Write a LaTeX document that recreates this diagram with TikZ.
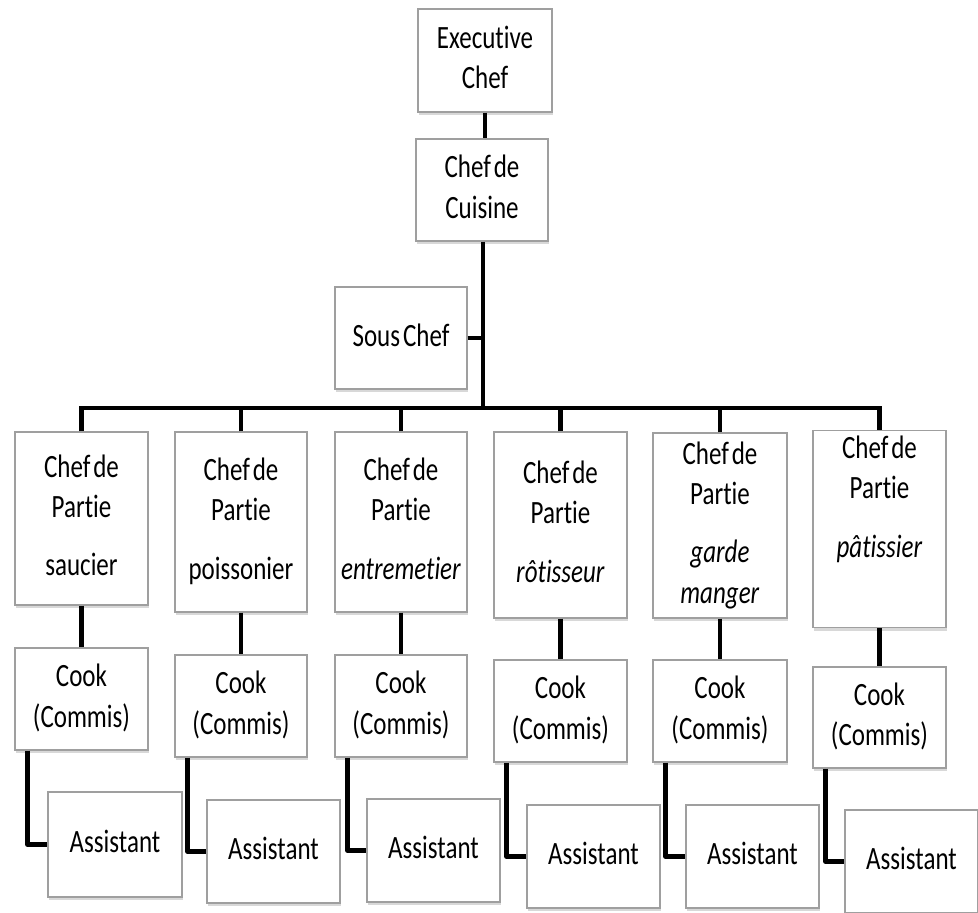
\documentclass[tikz,border=0pt]{standalone}
\usepackage{fontspec}
\setmainfont{Carlito}[Ligatures=NoCommon]
\usepackage{graphicx}
\usetikzlibrary{shadows}
\newcommand{\tx}[1]{\scalebox{1}[1.3]{\begin{tabular}{@{}c@{}}#1\end{tabular}}}
\newcommand{\nsp}{\hspace{3pt}}
\begin{document}
\begin{tikzpicture}[x=1pt,y=-1pt,
  box/.style={draw=gray!75, line width=1.1pt, fill=white, inner sep=0pt, align=center,
    font=\fontsize{25}{31}\selectfont,
    drop shadow={shadow xshift=1pt, shadow yshift=-3pt, opacity=0.3, fill=gray}},
  conn/.style={line width=4.5pt, black},
  thinconn/.style={line width=4pt, black}]
\useasboundingbox[fill=white] (0,0) rectangle (978,913);

\node[box, minimum width=134pt, minimum height=103pt] (exec) at (485,60.5) {\tx{Executive\\Chef}};
\node[box, minimum width=132pt, minimum height=102pt] (cuis) at (482,190) {\tx{Chef\nsp de\\Cuisine}};
\node[box, minimum width=132pt, minimum height=102pt] (sous) at (401,338) {\tx{Sous\nsp Chef}};
\coordinate (bar) at (483,408);

% Chef de Partie
\node[box, minimum width=133pt, minimum height=173pt] (c1) at (81.5,518.5) {\tx{Chef\nsp de\\Partie\\[14pt]saucier}};
\node[box, minimum width=132pt, minimum height=180pt] (c2) at (241,522) {\tx{Chef\nsp de\\Partie\\[14pt]poissonier}};
\node[box, minimum width=132pt, minimum height=180pt] (c3) at (401,522) {\tx{Chef\nsp de\\Partie\\[14pt]\textit{entremetier}}};
\node[box, minimum width=133pt, minimum height=186pt] (c4) at (560.5,525) {\tx{Chef\nsp de\\Partie\\[14pt]\textit{rôtisseur}}};
\node[box, minimum width=134pt, minimum height=185pt] (c5) at (720,525.5) {\tx{Chef\nsp de\\Partie\\[14pt]\textit{garde}\\\textit{manger}}};
\node[box, minimum width=133pt, minimum height=192pt] (c6) at (879.5,529) {\tx{Chef\nsp de\\Partie\\[14pt]\textit{pâtissier}\\[14pt]\mbox{}}};

% Cooks
\node[box, minimum width=133pt, minimum height=102pt] (k1) at (81.5,699) {\tx{Cook\\(Commis)}};
\node[box, minimum width=132pt, minimum height=102pt] (k2) at (241,706) {\tx{Cook\\(Commis)}};
\node[box, minimum width=132pt, minimum height=102pt] (k3) at (401,706) {\tx{Cook\\(Commis)}};
\node[box, minimum width=133pt, minimum height=102pt] (k4) at (560.5,711) {\tx{Cook\\(Commis)}};
\node[box, minimum width=134pt, minimum height=102pt] (k5) at (720,711) {\tx{Cook\\(Commis)}};
\node[box, minimum width=133pt, minimum height=101pt] (k6) at (879.5,717.5) {\tx{Cook\\(Commis)}};

% Assistants
\node[box, minimum width=134pt, minimum height=105pt] (a1) at (115,844.5) {\tx{Assistant}};
\node[box, minimum width=133pt, minimum height=103pt] (a2) at (273.5,851.5) {\tx{Assistant}};
\node[box, minimum width=133pt, minimum height=103pt] (a3) at (433.5,850.5) {\tx{Assistant}};
\node[box, minimum width=133pt, minimum height=103pt] (a4) at (593.5,856.5) {\tx{Assistant}};
\node[box, minimum width=133pt, minimum height=103pt] (a5) at (752.5,856.5) {\tx{Assistant}};
\node[box, minimum width=133pt, minimum height=103pt] (a6) at (911.5,861.5) {\tx{Assistant}};

% connectors
\draw[conn] (exec.south) -- (exec.south |- cuis.north);
\draw[conn] (cuis.south -| bar) -- (bar);
\draw[thinconn] (sous.east) -- (sous.east -| bar);
\draw[conn, line join=miter] (c1.north) |- (bar) -| (c6.north);
\foreach \c in {c2,c3,c4,c5}{
  \draw[conn] (\c.north) -- (\c.north |- bar);
}
\foreach \c/\k in {c1/k1,c2/k2,c3/k3,c4/k4,c5/k5,c6/k6}{
  \draw[conn] (\c.south -| \k.north) -- (\k.north);
}
\foreach \k/\a in {k1/a1,k2/a2,k3/a3,k4/a4,k5/a5,k6/a6}{
  \draw[conn, line join=round] ([xshift=13pt]\k.south west) |- (\a.west);
}
\end{tikzpicture}
\end{document}
